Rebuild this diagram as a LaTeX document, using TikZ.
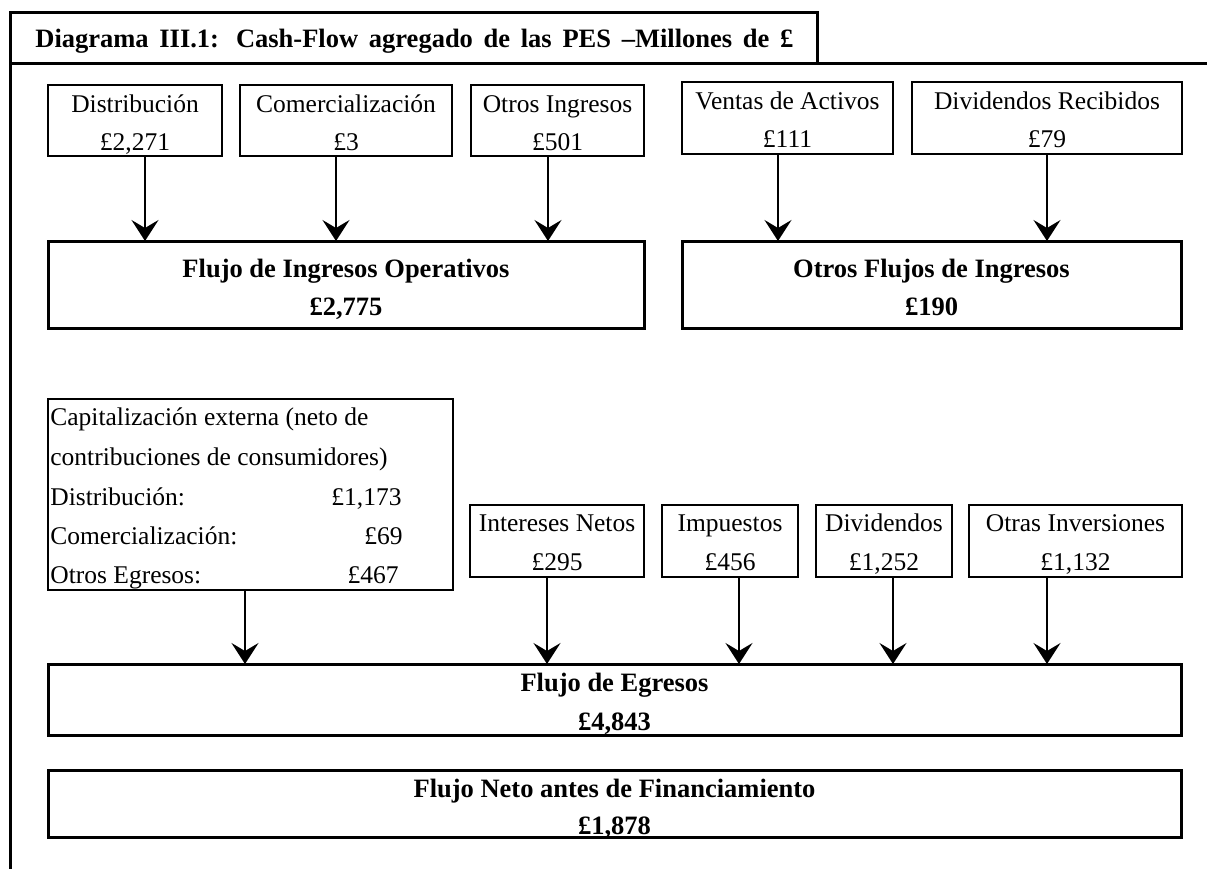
\documentclass[tikz,border=0pt]{standalone}
\usepackage{fontspec}
\setmainfont{Liberation Serif}
\usetikzlibrary{fit,arrows.meta}
\tikzset{
  sbox/.style={draw, line width=1pt, inner sep=0pt, outer sep=0pt},
  bbox/.style={draw, line width=1.5pt, inner sep=0pt, outer sep=0pt},
  txt/.style={anchor=base, inner sep=0pt, font=\fontsize{12.75}{19}\selectfont},
  ltxt/.style={anchor=base west, inner sep=0pt, font=\fontsize{12.75}{19}\selectfont},
  rtxt/.style={anchor=base east, inner sep=0pt, font=\fontsize{12.75}{19}\selectfont},
  btxt/.style={anchor=base, inner sep=0pt, font=\fontsize{13.25}{19}\selectfont\bfseries},
  arr/.style={line width=1pt, -{Stealth[length=10.5pt, width=13.5pt, inset=4pt]}},
  frame/.style={line width=1.5pt}
}
\begin{document}
\begin{tikzpicture}[x=0.5pt, y=-0.5pt]
\useasboundingbox (0,0) rectangle (1207,869);
% frame
\node[bbox, fit={(10,12) (817,63)}] (titlebox) {};
\node[anchor=base west, inner sep=0pt, font=\fontsize{13.25}{16}\selectfont\bfseries] (title) at (35,47)
  {\makebox[379pt][s]{Diagrama III.1: Cash-Flow agregado de las PES –Millones de £}};
\coordinate (fr1) at (1207,63);
\coordinate (fr2) at (10,869);
\draw[frame] (fr1) -- (titlebox.south west) -- (fr2);

% top small boxes
\node[sbox, fit={(48,85) (222,156)}] (dist) {};
\node[txt] (dist1) at (135,112) {Distribución};
\node[txt] (dist2) at (135,150) {£2,271};
\node[sbox, fit={(240,85) (452,156)}] (com) {};
\node[txt] (com1) at (346,112) {Comercialización};
\node[txt] (com2) at (346,150) {£3};
\node[sbox, fit={(471,85) (644,156)}] (oing) {};
\node[txt] (oing1) at (557.5,112) {Otros Ingresos};
\node[txt] (oing2) at (557.5,150) {£501};
\node[sbox, fit={(682,82) (893,154)}] (vent) {};
\node[txt] (vent1) at (787.5,109) {Ventas de Activos};
\node[txt] (vent2) at (787.5,147) {£111};
\node[sbox, fit={(912,82) (1182,154)}] (divr) {};
\node[txt] (divr1) at (1047,109) {Dividendos Recibidos};
\node[txt] (divr2) at (1047,147) {£79};

% income flows
\node[bbox, fit={(48,241) (644,328)}] (fio) {};
\node[btxt] (fio1) at (346,277) {Flujo de Ingresos Operativos};
\node[btxt] (fio2) at (346,315) {£2,775};
\node[bbox, fit={(682,241) (1181,328)}] (ofi) {};
\node[btxt] (ofi1) at (931.5,277) {Otros Flujos de Ingresos};
\node[btxt] (ofi2) at (931.5,315) {£190};

\coordinate (a1) at (145,0);
\coordinate (a2) at (336,0);
\coordinate (a3) at (548,0);
\coordinate (a4) at (778,0);
\coordinate (a5) at (1047,0);
\draw[arr] (dist.south -| a1) -- (fio.north -| a1);
\draw[arr] (com.south -| a2) -- (fio.north -| a2);
\draw[arr] (oing.south -| a3) -- (fio.north -| a3);
\draw[arr] (vent.south -| a4) -- (ofi.north -| a4);
\draw[arr] (divr.south -| a5) -- (ofi.north -| a5);

% capitalizacion
\node[sbox, fit={(48,399) (453,590)}] (cap) {};
\node[ltxt] (cap1) at (50,425) {Capitalización externa (neto de};
\node[ltxt] (cap2) at (50,465) {contribuciones de consumidores)};
\node[ltxt] (cap3) at (50,505) {Distribución:};
\node[rtxt] (cap3v) at (402,505) {£1,173};
\node[ltxt] (cap4) at (50,544) {Comercialización:};
\node[rtxt] (cap4v) at (403,544) {£69};
\node[ltxt] (cap5) at (50,583) {Otros Egresos:};
\node[rtxt] (cap5v) at (399,583) {£467};

% middle small boxes
\node[sbox, fit={(470,505) (644,577)}] (intn) {};
\node[txt] (intn1) at (557,531) {Intereses Netos};
\node[txt] (intn2) at (557,570) {£295};
\node[sbox, fit={(662,505) (798,577)}] (imp) {};
\node[txt] (imp1) at (730,531) {Impuestos};
\node[txt] (imp2) at (730,570) {£456};
\node[sbox, fit={(816,505) (952,577)}] (divd) {};
\node[txt] (divd1) at (884,531) {Dividendos};
\node[txt] (divd2) at (884,570) {£1,252};
\node[sbox, fit={(969,505) (1182,577)}] (oinv) {};
\node[txt] (oinv1) at (1075.5,531) {Otras Inversiones};
\node[txt] (oinv2) at (1075.5,570) {£1,132};

% egresos
\node[btxt] (fe1) at (614.5,691) {Flujo de Egresos};
\node[btxt] (fe2) at (614.5,730) {£4,843};
\node[bbox, fit={(48,664) (1181,735)}] (fe) {};

\coordinate (b1) at (245,0);
\coordinate (b2) at (547,0);
\coordinate (b3) at (739,0);
\coordinate (b4) at (893,0);
\coordinate (b5) at (1047,0);
\draw[arr] (cap.south -| b1) -- (fe.north -| b1);
\draw[arr] (intn.south -| b2) -- (fe.north -| b2);
\draw[arr] (imp.south -| b3) -- (fe.north -| b3);
\draw[arr] (divd.south -| b4) -- (fe.north -| b4);
\draw[arr] (oinv.south -| b5) -- (fe.north -| b5);

% neto
\node[btxt] (fn1) at (614.5,797) {Flujo Neto antes de Financiamiento};
\node[btxt] (fn2) at (614.5,834) {£1,878};
\node[bbox, fit={(48,770) (1181,837)}] (fn) {};
\end{tikzpicture}
\end{document}
